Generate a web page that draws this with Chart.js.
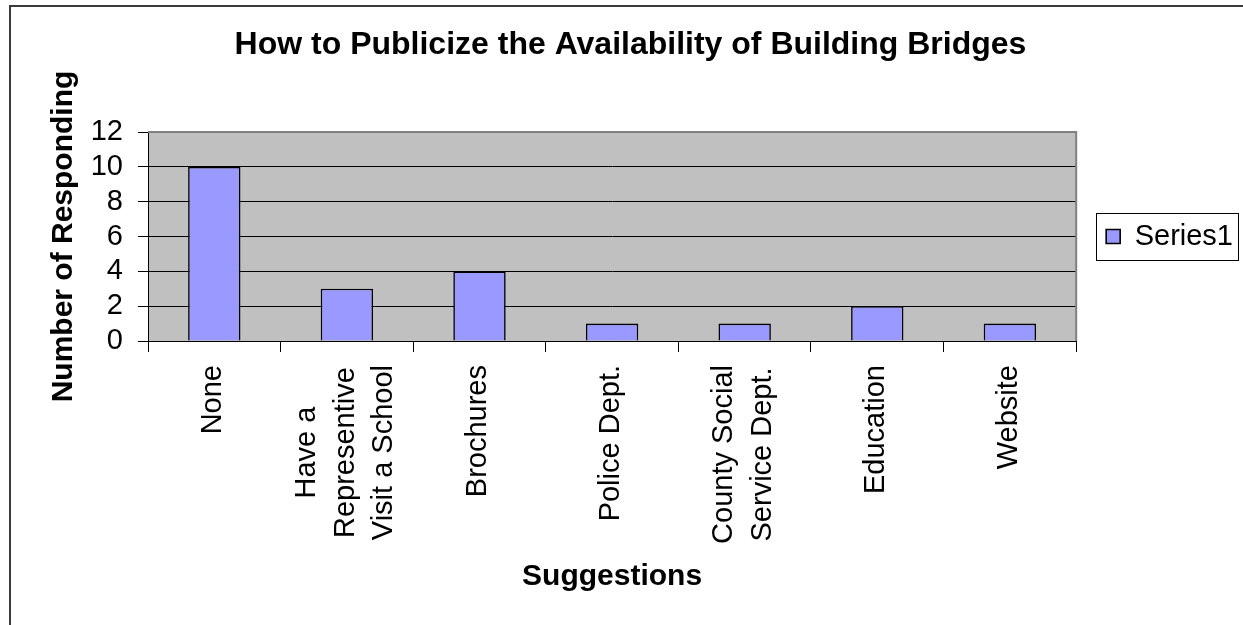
<!DOCTYPE html>
<html><head><meta charset="utf-8">
<script src="https://cdn.jsdelivr.net/npm/chart.js@4.4.1/dist/chart.umd.min.js"></script>
<style>html,body{margin:0;padding:0;background:#fff;} #wrap{position:relative;width:1243px;height:625px;}</style>
</head><body><div id="wrap"><canvas id="c"></canvas></div>
<script>
const categories = ["None", ["Have a", "Representive", "Visit a School"], "Brochures", "Police Dept.", ["County Social", "Service Dept."], "Education", "Website"];
const series1 = [10, 3, 4, 1, 1, 2, 1];
const yTicks = [0, 2, 4, 6, 8, 10, 12];
const seriesName = "Series1";
const chartTitle = "How to Publicize the Availability of Building Bridges";
const xTitle = "Suggestions";
const yTitle = "Number of Responding";

const FAMILY = '"Liberation Sans", Arial, sans-serif';

const framePlugin = {
  id: 'frame',
  beforeDraw(chart) {
    const {ctx, chartArea: a} = chart;
    ctx.save();
    ctx.fillStyle = '#C0C0C0';
    ctx.fillRect(a.left, a.top, a.right - a.left, a.bottom - a.top);
    ctx.strokeStyle = '#3a3a3a';
    ctx.lineWidth = 2;
    ctx.strokeRect(10, 6, 1400, 800);
    ctx.restore();
  },
  beforeDatasetsDraw(chart) {
    const {ctx, chartArea: a} = chart;
    ctx.save();
    ctx.strokeStyle = '#808080';
    ctx.lineWidth = 2;
    ctx.beginPath();
    ctx.moveTo(a.left, a.top);
    ctx.lineTo(a.right, a.top);
    ctx.lineTo(a.right, a.bottom);
    ctx.stroke();
    ctx.restore();
  },
  afterDraw(chart) {
    const {ctx} = chart;
    const xs = chart.scales.x;
    ctx.save();
    ctx.fillStyle = '#000';
    ctx.font = '29px ' + FAMILY;
    ctx.textAlign = 'center';
    ctx.textBaseline = 'middle';
    const top = xs.top + 24;
    const lineStep = 38.4;
    categories.forEach((lbl, i) => {
      const lines = Array.isArray(lbl) ? lbl : [lbl];
      const x = xs.getPixelForValue(i);
      const maxW = Math.max(...lines.map(l => ctx.measureText(l).width));
      lines.forEach((line, j) => {
        const cx = x + (j - (lines.length - 1) / 2) * lineStep - 1;
        const cy = top + maxW / 2;
        ctx.save();
        ctx.translate(cx, cy);
        ctx.rotate(-Math.PI / 2);
        ctx.fillText(line, 0, 0);
        ctx.restore();
      });
    });
    // legend border
    const hb = chart.legend && chart.legend.legendHitBoxes && chart.legend.legendHitBoxes[0];
    if (hb) {
      const cyL = hb.top + hb.height / 2;
      ctx.strokeStyle = '#000';
      ctx.lineWidth = 1;
      ctx.strokeRect(Math.round(hb.left - 10) + 0.5, Math.round(cyL - 23.5) + 0.5,
        Math.round(hb.width + 15), 47);
    }
    ctx.restore();
  }
};

new Chart(document.getElementById('c'), {
  type: 'bar',
  data: {
    labels: categories,
    datasets: [{
      label: seriesName,
      data: series1,
      backgroundColor: '#9999FF',
      borderColor: '#000000',
      borderWidth: 1.6,
      barPercentage: 0.395,
      categoryPercentage: 1.0
    }]
  },
  options: {
    responsive: true,
    maintainAspectRatio: false,
    animation: false,
    devicePixelRatio: 1,
    layout: {padding: {left: 18, top: 0, right: 0, bottom: 0}},
    plugins: {
      title: {
        display: true,
        text: chartTitle,
        color: '#000',
        font: {family: FAMILY, size: 32, weight: 'bold'},
        padding: {top: 26, bottom: 67.6}
      },
      legend: {
        position: 'right',
        fullSize: false,
        labels: {
          color: '#000',
          font: {family: FAMILY, size: 29},
          boxWidth: 14,
          boxHeight: 14,
          padding: 30
        }
      },
      tooltip: {enabled: false}
    },
    scales: {
      x: {
        offset: true,
        afterFit(s) { s.height = 284; },
        grid: {display: true, drawOnChartArea: false, drawTicks: true, tickLength: 11, color: '#000', offset: true},
        border: {display: true, color: '#000', width: 1},
        ticks: {display: false},
        title: {
          display: true, text: xTitle, color: '#000',
          font: {family: FAMILY, size: 30, weight: 'bold'},
          padding: {top: 0, bottom: 30}
        }
      },
      y: {
        min: 0, max: 12,
        afterFit(s) { s.width = 130; },
        afterBuildTicks(s) { s.ticks = yTicks.map(v => ({value: v})); },
        grid: {color: '#000', lineWidth: 1, drawTicks: true, tickLength: 10},
        border: {display: true, color: '#000', width: 1},
        ticks: {color: '#000', font: {family: FAMILY, size: 29}, padding: 15, autoSkip: false},
        title: {
          display: true, text: yTitle, color: '#000',
          font: {family: FAMILY, size: 30, weight: 'bold'},
          padding: {top: 28, bottom: 0}
        }
      }
    }
  },
  plugins: [framePlugin]
});
</script>
</body></html>
